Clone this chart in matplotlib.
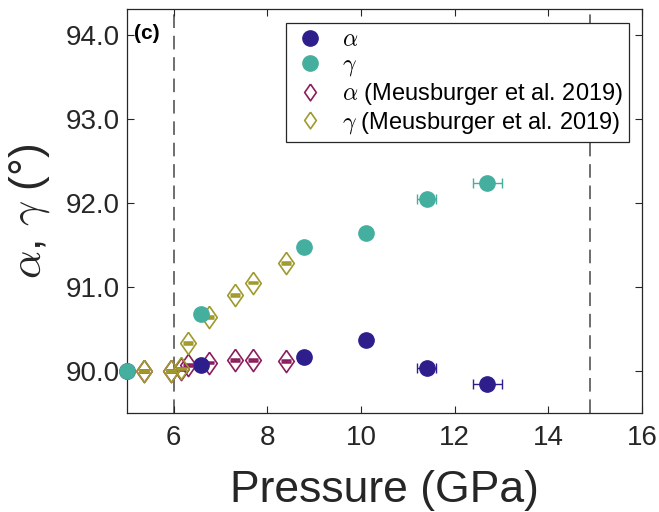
import matplotlib.pyplot as plt
from matplotlib.lines import Line2D
from matplotlib.ticker import FormatStrFormatter

plt.rcParams['font.family'] = ['Liberation Sans', 'DejaVu Sans']
plt.rcParams['mathtext.fontset'] = 'cm'

# this study
pressure = [5.0, 6.59, 8.79, 10.10, 11.40, 12.70]
pressure_err = [0.0, 0.0, 0.0, 0.0, 0.21, 0.31]
alpha = [90.0, 90.07, 90.16, 90.37, 90.03, 89.84]
gamma = [90.0, 90.68, 91.47, 91.64, 92.04, 92.23]

# Meusburger et al. 2019
p_meus = [5.36, 5.95, 6.15, 6.30, 6.75, 7.30, 7.69, 8.39]
alpha_meus = [90.0, 90.0, 90.02, 90.07, 90.10, 90.13, 90.13, 90.12]
gamma_meus = [90.0, 90.0, 90.03, 90.33, 90.64, 90.90, 91.05, 91.28]
angle_err_meus = 0.01

# pressure limits marked with dashed lines
p_limits = [6.0, 14.9]

c_alpha = '#2d1e8c'
c_gamma = '#45af9f'
c_alpha_m = '#8c1d5c'
c_gamma_m = '#9f9a2b'

# wider diamond than matplotlib's 'd'
diamond = [(0, 1), (0.7, 0), (0, -1), (-0.7, 0), (0, 1)]

fig = plt.figure(figsize=(6.59, 5.12), dpi=100)
ax = fig.add_axes([0.1927, 0.1934, 0.7815, 0.7884])

for p in p_limits:
    ax.axvline(p, color='#6e6e6e', lw=1.4, linestyle=(0, (7, 4)), zorder=1)

ax.errorbar(p_meus, alpha_meus, yerr=angle_err_meus, fmt='none',
            ecolor=c_alpha_m, elinewidth=1, capsize=3.5, capthick=1.8, zorder=2)
ax.plot(p_meus, alpha_meus, ls='none', marker=diamond, ms=16,
        mfc='none', mec=c_alpha_m, mew=1.2, zorder=2)
ax.errorbar(p_meus, gamma_meus, yerr=angle_err_meus, fmt='none',
            ecolor=c_gamma_m, elinewidth=1, capsize=3.5, capthick=1.8, zorder=2)
ax.plot(p_meus, gamma_meus, ls='none', marker=diamond, ms=16,
        mfc='none', mec=c_gamma_m, mew=1.2, zorder=2)
ax.errorbar(pressure, alpha, xerr=pressure_err, fmt='o', ms=11,
            color=c_alpha, elinewidth=1, capsize=3.5, capthick=1,
            clip_on=False, zorder=3)
ax.errorbar(pressure, gamma, xerr=pressure_err, fmt='o', ms=11,
            color=c_gamma, elinewidth=1, capsize=3.5, capthick=1,
            clip_on=False, zorder=3)

ax.set_xlim(5, 16)
ax.set_ylim(89.5, 94.3)
ax.set_xticks([6, 8, 10, 12, 14, 16])
ax.set_yticks([90, 91, 92, 93, 94])
ax.yaxis.set_major_formatter(FormatStrFormatter('%.1f'))
ax.tick_params(direction='in', top=True, right=True, length=5, width=0.8,
               labelsize=20, color='#262626', labelcolor='#262626')
ax.tick_params(axis='x', pad=9)
ax.tick_params(axis='y', pad=5)
for s in ax.spines.values():
    s.set_color('#262626')
    s.set_linewidth(0.9)

ax.set_xlabel('Pressure (GPa)', fontsize=32, color='#262626', labelpad=13)
ax.set_ylabel(r'$\alpha$, $\gamma$ (°)', fontsize=32, color='#262626',
              labelpad=10)

ax.text(0.014, 0.939, '(c)', transform=ax.transAxes, fontsize=15,
        fontweight='bold', va='center', ha='left')

handles = [
    Line2D([], [], marker='o', ls='none', ms=11, color=c_alpha),
    Line2D([], [], marker='o', ls='none', ms=11, color=c_gamma),
    Line2D([], [], marker=diamond, ls='none', ms=12, mfc='none', mec=c_alpha_m, mew=1.2),
    Line2D([], [], marker=diamond, ls='none', ms=12, mfc='none', mec=c_gamma_m, mew=1.2),
]
labels = [r'$\alpha$', r'$\gamma$',
          r'$\alpha$ (Meusburger et al. 2019)',
          r'$\gamma$ (Meusburger et al. 2019)']
leg = ax.legend(handles, labels, loc='upper right',
                bbox_to_anchor=(0.975, 0.966), borderaxespad=0,
                fontsize=17, fancybox=False, edgecolor='#262626',
                framealpha=1, labelspacing=0.12, handlelength=1.6,
                handletextpad=0.55, borderpad=0.25)
leg.get_frame().set_linewidth(0.9)

fig.savefig('out.png', dpi=100)
